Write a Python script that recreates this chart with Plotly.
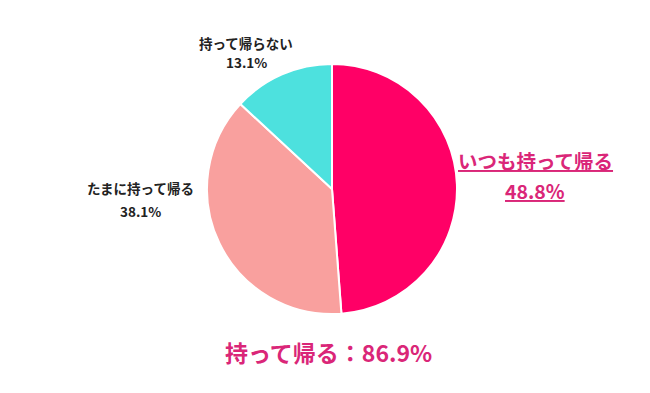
import plotly.graph_objects as go

labels = ["いつも持って帰る", "たまに持って帰る", "持って帰らない"]
values = [48.8, 38.1, 13.1]
colors = ["#FF0066", "#F9A09E", "#4DE1DE"]
total_label = "持って帰る"
total_value = 86.9

FONT = "Noto Sans CJK JP"

fig = go.Figure(go.Pie(
    labels=labels, values=values, sort=False, direction="clockwise", rotation=0,
    marker=dict(colors=colors, line=dict(color="white", width=2)),
    textinfo="none", hoverinfo="label+percent", showlegend=False,
    domain=dict(x=[207/650, 457/650], y=[1-314/393, 1-64/393]),
))

pink = "#DA2678"
black = dict(size=13.5, color="#222222", family=FONT, weight="bold")
big = dict(size=19.5, color=pink, family=FONT, weight="bold")
ann = [
    dict(x=535, y=160, text=f"<u>{labels[0]}</u>", font=big),
    dict(x=535, y=190, text=f"<u>{values[0]}%</u>", font=big),
    dict(x=140, y=188, text=labels[1], font=black),
    dict(x=140, y=211, text=f"{values[1]}%", font=black),
    dict(x=246, y=43, text=labels[2], font=black),
    dict(x=246, y=62, text=f"{values[2]}%", font=black),
    dict(x=328, y=352, text=f"{total_label}：{total_value}%",
         font=dict(size=23, color=pink, family=FONT, weight="bold")),
]
annotations = []
for a in ann:
    annotations.append(dict(x=a["x"]/650, y=1-a["y"]/393, xref="paper", yref="paper",
                            xanchor="center", yanchor="middle", showarrow=False,
                            text=a["text"], font=a["font"], align="center"))

fig.update_layout(width=650, height=393, margin=dict(l=0, r=0, t=0, b=0),
                  paper_bgcolor="white", plot_bgcolor="white",
                  annotations=annotations, font=dict(family=FONT))
fig.write_html("out.html", config={"displayModeBar": False},
               post_script="document.body.style.margin='0';")
